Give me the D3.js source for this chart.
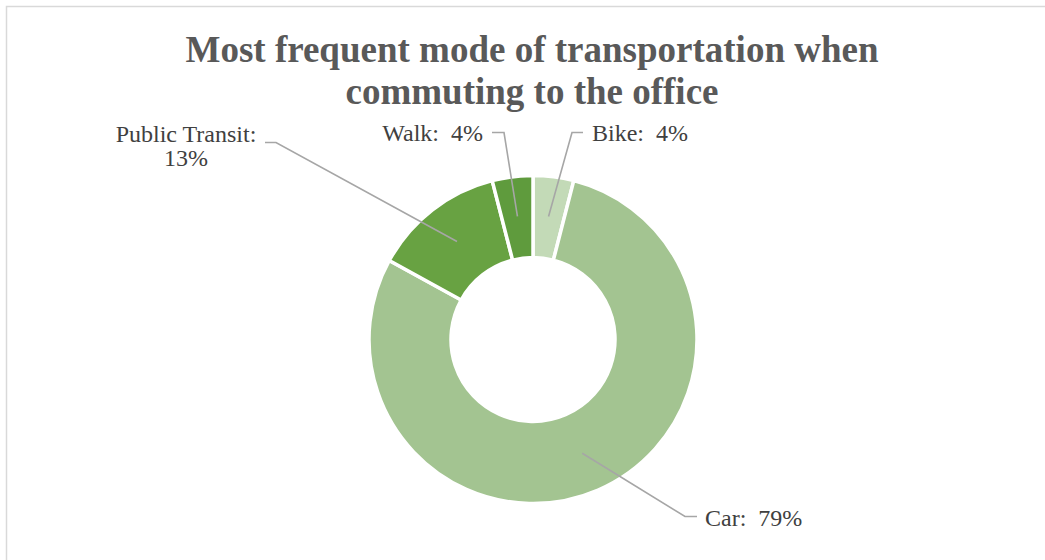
<!DOCTYPE html>
<html>
<head>
<meta charset="utf-8">
<script src="https://cdn.jsdelivr.net/npm/d3@7"></script>
<style>
  html, body { margin: 0; padding: 0; background: #fff; }
  svg { display: block; }
</style>
</head>
<body>
<svg id="chart" width="1045" height="560"></svg>
<script>
// Commute modes, in drawing order (clockwise from 12 o'clock)
const categories = ["Bike", "Car", "Public Transit", "Walk"];
const shares = [4, 79, 13, 4];
const colors = ["#c3dab7", "#a3c491", "#68a242", "#5f9b3d"];

const titleLines = ["Most frequent mode of transportation when", "commuting to the office"];

const W = 1045, H = 560;
const cx = 533, cy = 339.5;
const outerR = 164, innerR = 82;
const labelR = (outerR + innerR) / 2 + 1;

const svg = d3.select("#chart");

// chart area frame
svg.append("rect")
  .attr("x", 6.5).attr("y", 6.5)
  .attr("width", W + 20).attr("height", H + 20)
  .attr("fill", "#fff")
  .attr("stroke", "#d9d9d9").attr("stroke-width", 1.5);

// title
svg.append("text")
  .attr("text-anchor", "middle")
  .attr("font-family", "'Liberation Serif', 'Times New Roman', serif")
  .attr("font-weight", "bold")
  .attr("font-size", 37)
  .attr("fill", "#595959")
  .selectAll("tspan")
  .data(titleLines)
  .join("tspan")
  .attr("x", 532)
  .attr("y", (d, i) => 62 + i * 42)
  .text(d => d);

const data = categories.map((c, i) => ({ name: c, value: shares[i], color: colors[i] }));

const pie = d3.pie().value(d => d.value).sort(null);
const arcs = pie(data);
const arc = d3.arc().innerRadius(innerR).outerRadius(outerR);

const g = svg.append("g").attr("transform", `translate(${cx},${cy})`);

g.selectAll("path.slice")
  .data(arcs)
  .join("path")
  .attr("class", "slice")
  .attr("d", arc)
  .attr("fill", d => d.data.color)
  .attr("stroke", "#fff")
  .attr("stroke-width", 3.5)
  .attr("stroke-linejoin", "miter");

// label layout: where each callout's elbow and text sit, relative to the ring centre
const labelLayout = {
  "Bike":           { elbow: [39, -207], end: [50, -207], text: [59, -199], anchor: "start", lines: 1 },
  "Car":            { elbow: [152, 177], end: [164, 177], text: [172, 186], anchor: "start", lines: 1 },
  "Public Transit": { elbow: [-257, -197], end: [-268, -197], text: [-347, -198], anchor: "middle", lines: 2 },
  "Walk":           { elbow: [-29, -207], end: [-41, -207], text: [-50, -199], anchor: "end", lines: 1 }
};

const lineGen = d3.line();
const callouts = g.selectAll("g.callout")
  .data(arcs)
  .join("g")
  .attr("class", "callout");

callouts.append("path")
  .attr("fill", "none")
  .attr("stroke", "#a6a6a6")
  .attr("stroke-width", 1.6)
  .attr("d", d => {
    const a = (d.startAngle + d.endAngle) / 2;
    const p0 = [labelR * Math.sin(a), -labelR * Math.cos(a)];
    const L = labelLayout[d.data.name];
    return lineGen([p0, L.elbow, L.end]);
  });

callouts.each(function(d) {
  const L = labelLayout[d.data.name];
  const t = d3.select(this).append("text")
    .attr("text-anchor", L.anchor)
    .attr("font-family", "'Liberation Serif', 'Times New Roman', serif")
    .attr("font-size", 24)
    .attr("fill", "#404040")
    .style("white-space", "pre");
  const pct = `${d.data.value}%`;
  if (L.lines === 2) {
    t.append("tspan").attr("x", L.text[0]).attr("y", L.text[1]).text(`${d.data.name}:`);
    t.append("tspan").attr("x", L.text[0]).attr("y", L.text[1] + 24).text(pct);
  } else {
    t.append("tspan").attr("x", L.text[0]).attr("y", L.text[1]).text(`${d.data.name}:\u00a0 ${pct}`);
  }
});
</script>
</body>
</html>
